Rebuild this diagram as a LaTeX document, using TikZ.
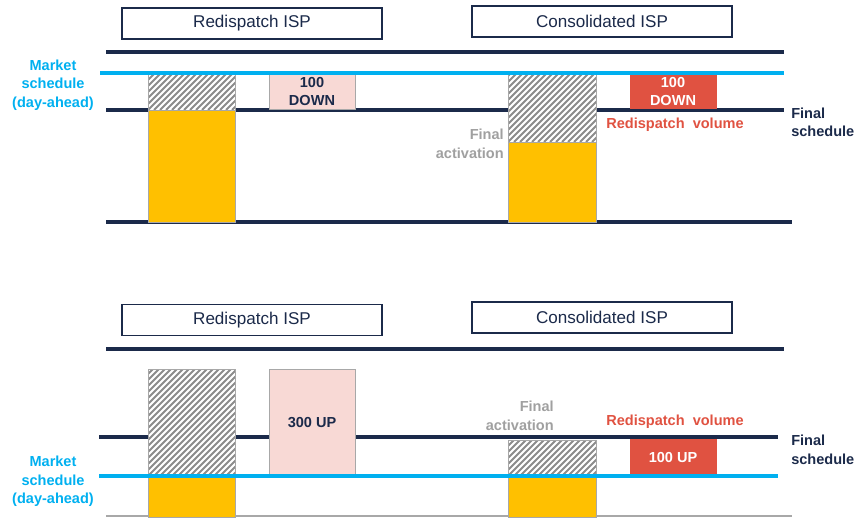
\documentclass[tikz,border=0pt]{standalone}
\usepackage{fontspec}
\setmainfont{Liberation Sans}
\definecolor{navy}{HTML}{1B2A4A}
\definecolor{cyanl}{HTML}{00B0F0}
\definecolor{gold}{HTML}{FFC000}
\definecolor{redv}{HTML}{E05241}
\definecolor{pinkv}{HTML}{F8D9D5}
\definecolor{greytxt}{HTML}{A0A0A0}
\definecolor{hatchc}{HTML}{8C8C8C}
\definecolor{bargray}{HTML}{A8A8A8}
\newcommand\hatchbar[4]{%
  \fill[white] (#1,#2) rectangle (#3,#4);
  \begin{scope}
    \clip (#1,#2) rectangle (#3,#4);
    \foreach \k in {-120,-114,...,100}
      \draw[hatchc,line width=1.35pt] ({#1+\k},#4) -- ++(150,-150);
  \end{scope}
  \draw[bargray,line width=0.5pt] (#1,#2) rectangle (#3,#4);
}
\begin{document}
\begin{tikzpicture}[x=0.75pt,y=-0.75pt,
  navyline/.style={navy,line width=2.3pt},
  cyanline/.style={cyanl,line width=2.3pt},
  titlebox/.style={draw=navy,line width=1.1pt,fill=white,text=navy,minimum width=195pt,minimum height=23pt,inner sep=0pt,font=\fontsize{12.8}{15}\selectfont},
  lbl/.style={font=\fontsize{10.9}{13.9}\selectfont\bfseries,inner sep=0pt},
  yellowbar/.style={fill=gold,draw=bargray,line width=0.5pt},
  pinkbox/.style={fill=pinkv,draw=bargray,line width=0.5pt},
  redbox/.style={fill=redv},
]
\useasboundingbox (0,0) rectangle (855,517);

% ---------- top panel ----------
\node[titlebox] (t1) at (252,23.5) {Redispatch ISP};
\node[titlebox] (t2) at (602,21.5) {Consolidated ISP};

\draw[navyline] (106,52) -- (784,52);
\draw[navyline] (106,110) -- (784,110);
\draw[navyline] (106,222) -- (792,222);

\hatchbar{148}{74}{235}{110}
\draw[yellowbar] (148,110) rectangle (235,222);
\draw[pinkbox] (269,74) rectangle (355,109);

\hatchbar{508}{74}{596}{142}
\draw[yellowbar] (508,142) rectangle (596,222);

\draw[cyanline] (100,73) -- (784,73);
\fill[redbox] (630,74.5) rectangle (717,109);

\node[lbl,text=cyanl,align=center] (ms1) at (53,85) {Market\\schedule\\(day-ahead)};
\node[lbl,text=navy,align=center] (d1) at (312,91.5) {100\\DOWN};
\node[lbl,text=white,align=center] (d2) at (673,91.5) {100\\DOWN};
\node[lbl,text=redv] (rv1) at (675,125) {Redispatch\ \ volume};
\node[lbl,text=navy,align=left,anchor=west] (fs1) at (791,122.5) {Final\\schedule};
\node[lbl,text=greytxt,align=right,anchor=east] (fa1) at (504,144) {Final\\activation};

% ---------- bottom panel ----------
\node[titlebox] (t3) at (252,320) {Redispatch ISP};
\node[titlebox] (t4) at (602,317.5) {Consolidated ISP};

\draw[navyline] (106,349) -- (784,349);
\draw[navyline] (99,437) -- (778,437);
\draw[bargray,line width=1.2pt] (106,516) -- (792,516);

\hatchbar{148}{369}{235}{476}
\draw[yellowbar] (148,476) rectangle (235,517);
\draw[pinkbox] (269,369) rectangle (355,476);

\hatchbar{508}{440}{596}{476}
\draw[yellowbar] (508,476) rectangle (596,517);
\fill[redbox] (630,439) rectangle (717,476);

\draw[cyanline] (99,476) -- (778,476);

\node[lbl,text=cyanl,align=center] (ms2) at (53,481.5) {Market\\schedule\\(day-ahead)};
\node[lbl,text=navy] (u1) at (312,423) {300 UP};
\node[lbl,text=white] (u2) at (673,457) {100 UP};
\node[lbl,text=redv] (rv2) at (675,422) {Redispatch\ \ volume};
\node[lbl,text=navy,align=left,anchor=west] (fs2) at (791,450) {Final\\schedule};
\node[lbl,text=greytxt,align=right,anchor=east] (fa2) at (554,416) {Final\\activation};
\end{tikzpicture}
\end{document}
